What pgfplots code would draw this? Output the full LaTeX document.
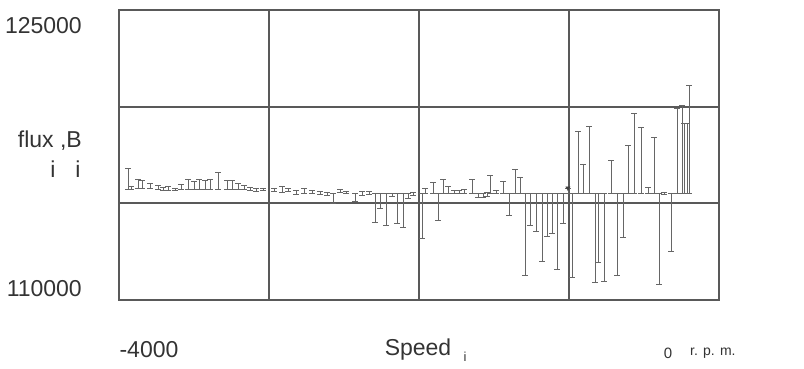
\documentclass[border=0pt]{standalone}
\usepackage{pgfplots}
\usepackage{pgfplotstable}
\pgfplotsset{compat=1.18}
\usepackage{fontspec}
\setmainfont{Liberation Sans}

\pgfplotstableread{
x low high
-3940 115741 116828
-3920 115741 115897
-3873 115793 116259
-3847 115793 116207
-3793 115793 116052
-3740 115741 115948
-3707 115690 115845
-3673 115690 115897
-3627 115690 115793
-3587 115741 116000
-3540 115741 116259
-3500 115741 116155
-3467 115741 116259
-3427 115741 116207
-3393 115741 116259
-3340 115741 116621
-3280 115741 116207
-3247 115741 116207
-3207 115741 116052
-3167 115741 115948
-3127 115690 115845
-3087 115638 115793
-3040 115690 115793
-2967 115638 115793
-2913 115586 115897
-2873 115638 115793
-2820 115483 115690
-2767 115534 115793
-2713 115534 115690
-2660 115483 115638
-2613 115431 115586
-2573 115017 115534
-2527 115586 115741
-2487 115534 115638
-2427 115121 115534
-2380 115431 115638
-2333 115483 115638
-2293 114034 115534
-2260 114759 115534
-2220 113879 115534
-2180 115379 115534
-2147 113983 115534
-2107 113776 115534
-2073 115276 115534
-2040 115431 115586
-1980 113207 115534
-1960 115534 115793
-1907 115534 116103
-1873 114138 115534
-1840 115534 116259
-1807 115534 115897
-1767 115534 115690
-1733 115534 115690
-1700 115534 115741
-1647 115534 116259
-1607 115328 115534
-1573 115328 115534
-1547 115379 115586
-1527 115534 116466
-1487 115534 115690
-1440 115534 116155
-1400 114397 115534
-1360 115534 116776
-1327 115534 116362
-1293 111293 115534
-1260 113879 115534
-1220 113569 115534
-1180 112017 115534
-1147 113310 115534
-1113 113466 115534
-1080 111603 115534
-1040 113983 115534
-1007 115534 115793
-980 111190 115534
-940 115534 118741
-907 115534 117034
-867 115534 119000
-827 110931 115534
-807 111966 115534
-767 110983 115534
-720 115534 117241
-680 111293 115534
-640 113259 115534
-607 115534 118017
-567 115534 119672
-520 115534 118948
-473 115534 115845
-433 115534 118431
-400 110828 115534
-367 115483 115586
-320 112534 115534
-280 115534 119931
-247 115534 120086
-233 115534 119155
-213 115534 119155
-200 115534 121121
}\fluxdata

\begin{document}
\begin{tikzpicture}
\begin{axis}[
  at={(0,0)}, anchor=south west,
  scale only axis, width=600bp, height=290bp,
  xmin=-4000, xmax=0, ymin=110000, ymax=125000,
  xtick={-3000,-2000,-1000}, ytick={115000,120000},
  xticklabels={}, yticklabels={},
  scaled x ticks=false, scaled y ticks=false,
  major tick length=0pt,
  grid=major,
  grid style={line width=1.7bp, color=black!65},
  axis line style={line width=1.7bp, color=black!65},
]
\addplot[only marks, mark=-, mark size=2.6bp, color=black!60,
  mark options={line width=0.9bp},
  error bars/.cd, y dir=plus, y explicit, error mark=|,
  error mark options={mark size=2.6bp, line width=0.9bp, black!60},
  error bar style={line width=0.9bp, black!60}]
  table[x=x, y=low, y error plus expr={\thisrow{high}-\thisrow{low}}] {\fluxdata};
\addplot[only marks, mark=triangle*, mark size=2.5bp, color=black!75,
  mark options={rotate=180}] coordinates {(-1007,115793)};
\end{axis}
\path[use as bounding box] (-119bp,-69bp) rectangle (685bp,300bp);
\node[font=\fontsize{23bp}{26bp}\selectfont, text=black!80, anchor=east, inner sep=0pt] at (-37bp,274bp) {125000};
\node[font=\fontsize{23bp}{26bp}\selectfont, text=black!80, anchor=east, inner sep=0pt] at (-37bp,159bp) {flux ,B};
\node[font=\fontsize{23bp}{26bp}\selectfont, text=black!80] at (-66bp,131bp) {i};
\node[font=\fontsize{23bp}{26bp}\selectfont, text=black!80] at (-41bp,131bp) {i};
\node[font=\fontsize{23bp}{26bp}\selectfont, text=black!80, anchor=east, inner sep=0pt] at (-37bp,11bp) {110000};
\node[font=\fontsize{23bp}{26bp}\selectfont, text=black!80] at (30bp,-50bp) {-4000};
\node[font=\fontsize{23bp}{26bp}\selectfont, text=black!80] at (299bp,-50bp) {Speed};
\node[font=\fontsize{13bp}{15bp}\selectfont, text=black!80] at (346bp,-57bp) {i};
\node[font=\fontsize{15bp}{17bp}\selectfont, text=black!80] at (549bp,-53bp) {0};
\node[font=\fontsize{14bp}{16bp}\selectfont, text=black!80, anchor=west, inner sep=0pt] at (571bp,-53bp) {r. p. m.};
\end{tikzpicture}
\end{document}
